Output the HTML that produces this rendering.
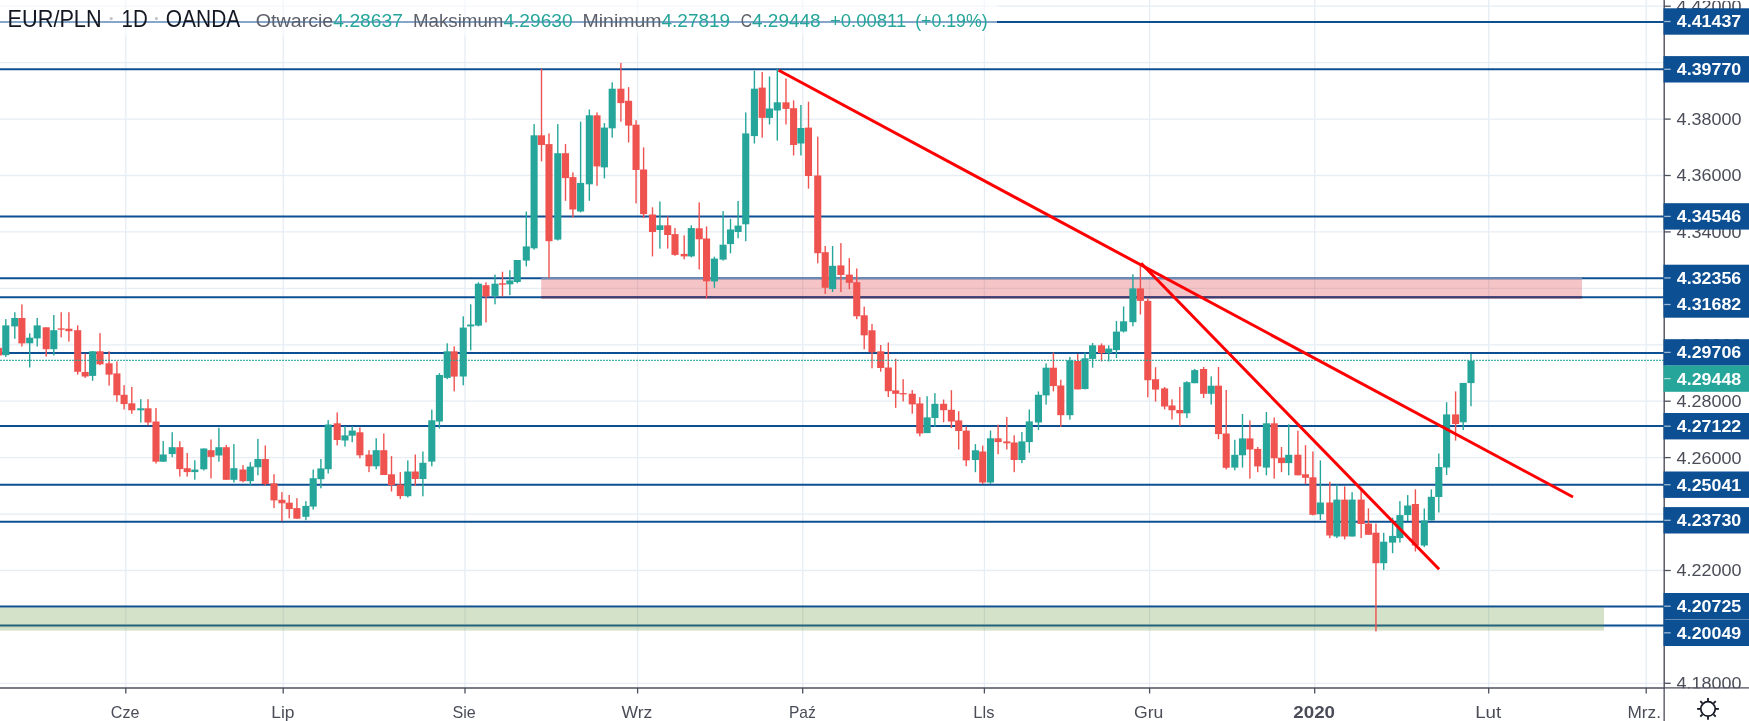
<!DOCTYPE html>
<html><head><meta charset="utf-8"><title>EUR/PLN 1D OANDA</title>
<style>html,body{margin:0;padding:0;background:#fff;overflow:hidden;}svg{display:block;filter:blur(0.45px);}</style>
</head><body>
<svg width="1749" height="721" viewBox="0 0 1749 721" font-family="Liberation Sans, Arial, sans-serif">
<rect width="1749" height="721" fill="#ffffff"/>
<g stroke="#e6edf4" stroke-width="1.3">
<line x1="125.8" y1="0" x2="125.8" y2="688.0"/>
<line x1="283.2" y1="0" x2="283.2" y2="688.0"/>
<line x1="465.0" y1="0" x2="465.0" y2="688.0"/>
<line x1="637.6" y1="0" x2="637.6" y2="688.0"/>
<line x1="802.7" y1="0" x2="802.7" y2="688.0"/>
<line x1="984.4" y1="0" x2="984.4" y2="688.0"/>
<line x1="1149.6" y1="0" x2="1149.6" y2="688.0"/>
<line x1="1314.7" y1="0" x2="1314.7" y2="688.0"/>
<line x1="1488.7" y1="0" x2="1488.7" y2="688.0"/>
<line x1="1646.2" y1="0" x2="1646.2" y2="688.0"/>
<line x1="0" y1="6.2" x2="1664.2" y2="6.2"/>
<line x1="0" y1="62.7" x2="1664.2" y2="62.7"/>
<line x1="0" y1="119.1" x2="1664.2" y2="119.1"/>
<line x1="0" y1="175.5" x2="1664.2" y2="175.5"/>
<line x1="0" y1="231.9" x2="1664.2" y2="231.9"/>
<line x1="0" y1="288.4" x2="1664.2" y2="288.4"/>
<line x1="0" y1="344.8" x2="1664.2" y2="344.8"/>
<line x1="0" y1="401.2" x2="1664.2" y2="401.2"/>
<line x1="0" y1="457.6" x2="1664.2" y2="457.6"/>
<line x1="0" y1="514.1" x2="1664.2" y2="514.1"/>
<line x1="0" y1="570.5" x2="1664.2" y2="570.5"/>
<line x1="0" y1="626.9" x2="1664.2" y2="626.9"/>
<line x1="0" y1="683.3" x2="1664.2" y2="683.3"/>
</g>
<g stroke="#0c4f92" stroke-width="2.0">
<line x1="0" y1="22.1" x2="1664.2" y2="22.1"/>
<line x1="0" y1="69.2" x2="1664.2" y2="69.2"/>
<line x1="0" y1="216.5" x2="1664.2" y2="216.5"/>
<line x1="0" y1="278.3" x2="1664.2" y2="278.3"/>
<line x1="0" y1="297.3" x2="1664.2" y2="297.3"/>
<line x1="0" y1="353.1" x2="1664.2" y2="353.1"/>
<line x1="0" y1="426.0" x2="1664.2" y2="426.0"/>
<line x1="0" y1="484.7" x2="1664.2" y2="484.7"/>
<line x1="0" y1="521.7" x2="1664.2" y2="521.7"/>
<line x1="0" y1="606.5" x2="1664.2" y2="606.5"/>
<line x1="0" y1="625.5" x2="1664.2" y2="625.5"/>
</g>
<rect x="541.2" y="278.9" width="1040.8" height="20.0" fill="rgb(220,70,80)" fill-opacity="0.32"/>
<line x1="541.2" y1="278.3" x2="1582" y2="278.3" stroke="#6f8cb4" stroke-width="1.9"/>
<line x1="541.2" y1="297.3" x2="1582" y2="297.3" stroke="#3a3e70" stroke-width="1.9"/>
<rect x="0" y="607.4" width="1604" height="23.2" fill="rgb(100,150,60)" fill-opacity="0.28"/>
<rect x="-2.27" y="340.0" width="1.4" height="18.0" fill="#ef5350"/>
<rect x="-5.12" y="347.8" width="7.1" height="7.7" fill="#ef5350"/>
<rect x="5.10" y="319.1" width="1.4" height="37.8" fill="#26a69a"/>
<rect x="2.25" y="325.4" width="7.1" height="29.8" fill="#26a69a"/>
<rect x="14.10" y="312.2" width="1.4" height="26.6" fill="#26a69a"/>
<rect x="11.25" y="318.0" width="7.1" height="8.4" fill="#26a69a"/>
<rect x="21.20" y="304.4" width="1.4" height="42.1" fill="#ef5350"/>
<rect x="18.35" y="318.0" width="7.1" height="25.4" fill="#ef5350"/>
<rect x="29.00" y="333.3" width="1.4" height="34.2" fill="#26a69a"/>
<rect x="26.15" y="337.7" width="7.1" height="5.6" fill="#26a69a"/>
<rect x="36.50" y="318.0" width="1.4" height="28.5" fill="#26a69a"/>
<rect x="33.65" y="325.4" width="7.1" height="13.0" fill="#26a69a"/>
<rect x="45.50" y="327.3" width="1.4" height="29.3" fill="#ef5350"/>
<rect x="42.65" y="327.3" width="7.1" height="21.9" fill="#ef5350"/>
<rect x="53.10" y="315.0" width="1.4" height="40.5" fill="#26a69a"/>
<rect x="50.25" y="330.2" width="7.1" height="19.0" fill="#26a69a"/>
<rect x="60.50" y="312.2" width="1.4" height="25.2" fill="#ef5350"/>
<rect x="57.65" y="328.4" width="7.1" height="1.3" fill="#ef5350"/>
<rect x="68.20" y="312.2" width="1.4" height="29.4" fill="#ef5350"/>
<rect x="65.35" y="328.7" width="7.1" height="2.5" fill="#ef5350"/>
<rect x="77.00" y="325.4" width="1.4" height="49.2" fill="#ef5350"/>
<rect x="74.15" y="330.2" width="7.1" height="41.6" fill="#ef5350"/>
<rect x="84.50" y="353.6" width="1.4" height="24.3" fill="#ef5350"/>
<rect x="81.65" y="372.0" width="7.1" height="4.5" fill="#ef5350"/>
<rect x="91.90" y="351.0" width="1.4" height="29.8" fill="#26a69a"/>
<rect x="89.05" y="351.3" width="7.1" height="24.6" fill="#26a69a"/>
<rect x="99.30" y="333.1" width="1.4" height="32.1" fill="#ef5350"/>
<rect x="96.45" y="351.3" width="7.1" height="13.0" fill="#ef5350"/>
<rect x="108.40" y="351.3" width="1.4" height="34.3" fill="#ef5350"/>
<rect x="105.55" y="363.3" width="7.1" height="11.3" fill="#ef5350"/>
<rect x="116.20" y="361.4" width="1.4" height="40.3" fill="#ef5350"/>
<rect x="113.35" y="373.4" width="7.1" height="21.9" fill="#ef5350"/>
<rect x="123.40" y="385.2" width="1.4" height="24.3" fill="#ef5350"/>
<rect x="120.55" y="394.8" width="7.1" height="9.3" fill="#ef5350"/>
<rect x="131.10" y="387.0" width="1.4" height="26.8" fill="#ef5350"/>
<rect x="128.25" y="403.3" width="7.1" height="7.0" fill="#ef5350"/>
<rect x="140.10" y="399.2" width="1.4" height="23.3" fill="#26a69a"/>
<rect x="137.25" y="408.3" width="7.1" height="2.0" fill="#26a69a"/>
<rect x="147.30" y="399.2" width="1.4" height="26.2" fill="#ef5350"/>
<rect x="144.45" y="408.3" width="7.1" height="14.2" fill="#ef5350"/>
<rect x="155.30" y="408.0" width="1.4" height="55.5" fill="#ef5350"/>
<rect x="152.45" y="421.5" width="7.1" height="40.2" fill="#ef5350"/>
<rect x="162.50" y="441.0" width="1.4" height="20.7" fill="#26a69a"/>
<rect x="159.65" y="454.5" width="7.1" height="7.2" fill="#26a69a"/>
<rect x="171.50" y="432.2" width="1.4" height="24.9" fill="#26a69a"/>
<rect x="168.65" y="447.2" width="7.1" height="6.9" fill="#26a69a"/>
<rect x="179.10" y="441.2" width="1.4" height="35.4" fill="#ef5350"/>
<rect x="176.25" y="447.2" width="7.1" height="21.9" fill="#ef5350"/>
<rect x="186.50" y="453.0" width="1.4" height="23.6" fill="#ef5350"/>
<rect x="183.65" y="468.2" width="7.1" height="3.9" fill="#ef5350"/>
<rect x="194.10" y="460.3" width="1.4" height="19.4" fill="#26a69a"/>
<rect x="191.25" y="469.6" width="7.1" height="2.5" fill="#26a69a"/>
<rect x="203.10" y="448.5" width="1.4" height="22.0" fill="#26a69a"/>
<rect x="200.25" y="448.5" width="7.1" height="20.8" fill="#26a69a"/>
<rect x="210.30" y="439.5" width="1.4" height="38.9" fill="#ef5350"/>
<rect x="207.45" y="450.2" width="7.1" height="6.7" fill="#ef5350"/>
<rect x="218.20" y="427.7" width="1.4" height="34.0" fill="#26a69a"/>
<rect x="215.35" y="447.2" width="7.1" height="8.3" fill="#26a69a"/>
<rect x="225.60" y="445.0" width="1.4" height="34.8" fill="#ef5350"/>
<rect x="222.75" y="447.2" width="7.1" height="32.6" fill="#ef5350"/>
<rect x="233.20" y="444.1" width="1.4" height="38.4" fill="#26a69a"/>
<rect x="230.35" y="468.2" width="7.1" height="11.6" fill="#26a69a"/>
<rect x="242.30" y="465.1" width="1.4" height="17.2" fill="#ef5350"/>
<rect x="239.45" y="469.5" width="7.1" height="11.7" fill="#ef5350"/>
<rect x="249.60" y="462.2" width="1.4" height="23.3" fill="#26a69a"/>
<rect x="246.75" y="466.6" width="7.1" height="14.6" fill="#26a69a"/>
<rect x="257.20" y="438.9" width="1.4" height="36.4" fill="#26a69a"/>
<rect x="254.35" y="459.0" width="7.1" height="8.3" fill="#26a69a"/>
<rect x="264.60" y="445.5" width="1.4" height="40.0" fill="#ef5350"/>
<rect x="261.75" y="459.0" width="7.1" height="25.1" fill="#ef5350"/>
<rect x="273.30" y="474.2" width="1.4" height="33.9" fill="#ef5350"/>
<rect x="270.45" y="483.3" width="7.1" height="17.1" fill="#ef5350"/>
<rect x="281.20" y="492.1" width="1.4" height="29.1" fill="#ef5350"/>
<rect x="278.35" y="499.8" width="7.1" height="3.5" fill="#ef5350"/>
<rect x="288.50" y="495.0" width="1.4" height="23.3" fill="#ef5350"/>
<rect x="285.65" y="502.7" width="7.1" height="6.4" fill="#ef5350"/>
<rect x="296.20" y="498.2" width="1.4" height="20.5" fill="#ef5350"/>
<rect x="293.35" y="508.1" width="7.1" height="10.6" fill="#ef5350"/>
<rect x="305.20" y="501.1" width="1.4" height="19.1" fill="#26a69a"/>
<rect x="302.35" y="505.9" width="7.1" height="10.9" fill="#26a69a"/>
<rect x="312.50" y="469.5" width="1.4" height="40.1" fill="#26a69a"/>
<rect x="309.65" y="478.2" width="7.1" height="28.4" fill="#26a69a"/>
<rect x="320.20" y="459.0" width="1.4" height="29.3" fill="#26a69a"/>
<rect x="317.35" y="468.4" width="7.1" height="10.8" fill="#26a69a"/>
<rect x="327.50" y="420.1" width="1.4" height="53.4" fill="#26a69a"/>
<rect x="324.65" y="424.5" width="7.1" height="44.7" fill="#26a69a"/>
<rect x="336.50" y="412.4" width="1.4" height="33.0" fill="#ef5350"/>
<rect x="333.65" y="423.3" width="7.1" height="16.7" fill="#ef5350"/>
<rect x="344.30" y="426.2" width="1.4" height="20.4" fill="#26a69a"/>
<rect x="341.45" y="435.4" width="7.1" height="5.1" fill="#26a69a"/>
<rect x="351.50" y="426.2" width="1.4" height="16.0" fill="#26a69a"/>
<rect x="348.65" y="430.6" width="7.1" height="5.1" fill="#26a69a"/>
<rect x="359.20" y="427.4" width="1.4" height="30.9" fill="#ef5350"/>
<rect x="356.35" y="432.3" width="7.1" height="23.0" fill="#ef5350"/>
<rect x="368.30" y="450.2" width="1.4" height="21.9" fill="#ef5350"/>
<rect x="365.45" y="454.6" width="7.1" height="11.7" fill="#ef5350"/>
<rect x="375.50" y="438.2" width="1.4" height="31.0" fill="#26a69a"/>
<rect x="372.65" y="450.2" width="7.1" height="16.1" fill="#26a69a"/>
<rect x="383.10" y="433.5" width="1.4" height="41.5" fill="#ef5350"/>
<rect x="380.25" y="450.2" width="7.1" height="24.8" fill="#ef5350"/>
<rect x="390.80" y="456.1" width="1.4" height="35.4" fill="#ef5350"/>
<rect x="387.95" y="474.3" width="7.1" height="10.9" fill="#ef5350"/>
<rect x="399.60" y="472.1" width="1.4" height="26.9" fill="#ef5350"/>
<rect x="396.75" y="484.5" width="7.1" height="11.6" fill="#ef5350"/>
<rect x="407.10" y="460.4" width="1.4" height="37.1" fill="#26a69a"/>
<rect x="404.25" y="471.5" width="7.1" height="24.7" fill="#26a69a"/>
<rect x="414.60" y="454.5" width="1.4" height="31.2" fill="#ef5350"/>
<rect x="411.75" y="471.5" width="7.1" height="7.5" fill="#ef5350"/>
<rect x="422.20" y="451.5" width="1.4" height="44.8" fill="#26a69a"/>
<rect x="419.35" y="462.8" width="7.1" height="16.2" fill="#26a69a"/>
<rect x="431.10" y="409.7" width="1.4" height="56.6" fill="#26a69a"/>
<rect x="428.25" y="420.3" width="7.1" height="41.3" fill="#26a69a"/>
<rect x="438.70" y="373.2" width="1.4" height="55.4" fill="#26a69a"/>
<rect x="435.85" y="375.0" width="7.1" height="46.5" fill="#26a69a"/>
<rect x="446.50" y="343.3" width="1.4" height="35.9" fill="#26a69a"/>
<rect x="443.65" y="351.3" width="7.1" height="26.6" fill="#26a69a"/>
<rect x="453.50" y="346.4" width="1.4" height="45.0" fill="#ef5350"/>
<rect x="450.65" y="351.3" width="7.1" height="25.3" fill="#ef5350"/>
<rect x="462.55" y="316.3" width="1.4" height="69.0" fill="#26a69a"/>
<rect x="459.70" y="327.6" width="7.1" height="48.9" fill="#26a69a"/>
<rect x="470.00" y="304.3" width="1.4" height="46.0" fill="#26a69a"/>
<rect x="467.15" y="324.5" width="7.1" height="1.9" fill="#26a69a"/>
<rect x="477.70" y="282.3" width="1.4" height="44.1" fill="#26a69a"/>
<rect x="474.85" y="283.7" width="7.1" height="41.9" fill="#26a69a"/>
<rect x="485.30" y="282.3" width="1.4" height="40.2" fill="#ef5350"/>
<rect x="482.45" y="285.2" width="7.1" height="11.3" fill="#ef5350"/>
<rect x="494.30" y="274.6" width="1.4" height="29.7" fill="#26a69a"/>
<rect x="491.45" y="283.7" width="7.1" height="12.2" fill="#26a69a"/>
<rect x="501.80" y="271.7" width="1.4" height="24.8" fill="#ef5350"/>
<rect x="498.95" y="283.3" width="7.1" height="1.4" fill="#ef5350"/>
<rect x="509.15" y="270.2" width="1.4" height="24.9" fill="#26a69a"/>
<rect x="506.30" y="280.4" width="7.1" height="3.9" fill="#26a69a"/>
<rect x="516.55" y="260.0" width="1.4" height="23.3" fill="#26a69a"/>
<rect x="513.70" y="260.0" width="7.1" height="22.0" fill="#26a69a"/>
<rect x="525.60" y="211.5" width="1.4" height="54.9" fill="#26a69a"/>
<rect x="522.75" y="246.4" width="7.1" height="14.2" fill="#26a69a"/>
<rect x="533.40" y="124.1" width="1.4" height="125.6" fill="#26a69a"/>
<rect x="530.55" y="135.3" width="7.1" height="113.0" fill="#26a69a"/>
<rect x="540.80" y="68.7" width="1.4" height="92.7" fill="#ef5350"/>
<rect x="537.95" y="135.3" width="7.1" height="9.7" fill="#ef5350"/>
<rect x="548.30" y="133.4" width="1.4" height="144.6" fill="#ef5350"/>
<rect x="545.45" y="144.1" width="7.1" height="97.1" fill="#ef5350"/>
<rect x="557.10" y="124.1" width="1.4" height="116.4" fill="#26a69a"/>
<rect x="554.25" y="153.2" width="7.1" height="86.4" fill="#26a69a"/>
<rect x="564.80" y="144.1" width="1.4" height="56.7" fill="#ef5350"/>
<rect x="561.95" y="153.2" width="7.1" height="24.9" fill="#ef5350"/>
<rect x="572.20" y="172.4" width="1.4" height="44.9" fill="#ef5350"/>
<rect x="569.35" y="177.1" width="7.1" height="32.4" fill="#ef5350"/>
<rect x="579.90" y="121.7" width="1.4" height="90.7" fill="#26a69a"/>
<rect x="577.05" y="182.9" width="7.1" height="28.6" fill="#26a69a"/>
<rect x="588.65" y="109.5" width="1.4" height="91.3" fill="#26a69a"/>
<rect x="585.80" y="115.3" width="7.1" height="69.0" fill="#26a69a"/>
<rect x="596.30" y="112.4" width="1.4" height="73.4" fill="#ef5350"/>
<rect x="593.45" y="115.3" width="7.1" height="51.1" fill="#ef5350"/>
<rect x="603.70" y="123.1" width="1.4" height="55.3" fill="#26a69a"/>
<rect x="600.85" y="127.6" width="7.1" height="39.8" fill="#26a69a"/>
<rect x="611.50" y="82.3" width="1.4" height="55.4" fill="#26a69a"/>
<rect x="608.65" y="88.7" width="7.1" height="39.6" fill="#26a69a"/>
<rect x="620.20" y="62.9" width="1.4" height="58.8" fill="#ef5350"/>
<rect x="617.35" y="88.7" width="7.1" height="14.4" fill="#ef5350"/>
<rect x="627.90" y="87.2" width="1.4" height="55.3" fill="#ef5350"/>
<rect x="625.05" y="100.8" width="7.1" height="24.8" fill="#ef5350"/>
<rect x="635.35" y="120.2" width="1.4" height="83.2" fill="#ef5350"/>
<rect x="632.50" y="124.7" width="7.1" height="45.3" fill="#ef5350"/>
<rect x="642.90" y="147.4" width="1.4" height="70.6" fill="#ef5350"/>
<rect x="640.05" y="169.5" width="7.1" height="44.6" fill="#ef5350"/>
<rect x="651.80" y="207.3" width="1.4" height="49.1" fill="#ef5350"/>
<rect x="648.95" y="214.5" width="7.1" height="17.5" fill="#ef5350"/>
<rect x="659.20" y="201.5" width="1.4" height="47.1" fill="#26a69a"/>
<rect x="656.35" y="225.3" width="7.1" height="4.7" fill="#26a69a"/>
<rect x="667.00" y="216.4" width="1.4" height="32.2" fill="#ef5350"/>
<rect x="664.15" y="225.3" width="7.1" height="9.7" fill="#ef5350"/>
<rect x="674.30" y="228.1" width="1.4" height="27.7" fill="#ef5350"/>
<rect x="671.45" y="234.1" width="7.1" height="20.8" fill="#ef5350"/>
<rect x="683.50" y="235.4" width="1.4" height="23.9" fill="#ef5350"/>
<rect x="680.65" y="253.9" width="7.1" height="2.5" fill="#ef5350"/>
<rect x="690.60" y="225.3" width="1.4" height="32.1" fill="#26a69a"/>
<rect x="687.75" y="228.1" width="7.1" height="28.3" fill="#26a69a"/>
<rect x="698.50" y="202.4" width="1.4" height="67.1" fill="#ef5350"/>
<rect x="695.65" y="228.3" width="7.1" height="11.0" fill="#ef5350"/>
<rect x="705.85" y="226.5" width="1.4" height="71.9" fill="#ef5350"/>
<rect x="703.00" y="238.5" width="7.1" height="42.8" fill="#ef5350"/>
<rect x="713.70" y="256.7" width="1.4" height="31.1" fill="#26a69a"/>
<rect x="710.85" y="258.6" width="7.1" height="22.8" fill="#26a69a"/>
<rect x="722.40" y="211.1" width="1.4" height="49.5" fill="#26a69a"/>
<rect x="719.55" y="244.7" width="7.1" height="14.9" fill="#26a69a"/>
<rect x="729.80" y="218.8" width="1.4" height="34.6" fill="#26a69a"/>
<rect x="726.95" y="229.5" width="7.1" height="14.6" fill="#26a69a"/>
<rect x="737.40" y="201.0" width="1.4" height="37.3" fill="#26a69a"/>
<rect x="734.55" y="225.6" width="7.1" height="6.4" fill="#26a69a"/>
<rect x="745.05" y="112.4" width="1.4" height="128.8" fill="#26a69a"/>
<rect x="742.20" y="133.4" width="7.1" height="90.9" fill="#26a69a"/>
<rect x="753.70" y="70.7" width="1.4" height="72.8" fill="#26a69a"/>
<rect x="750.85" y="88.7" width="7.1" height="47.4" fill="#26a69a"/>
<rect x="761.50" y="72.0" width="1.4" height="65.7" fill="#ef5350"/>
<rect x="758.65" y="87.6" width="7.1" height="30.3" fill="#ef5350"/>
<rect x="768.80" y="76.5" width="1.4" height="48.0" fill="#26a69a"/>
<rect x="765.95" y="108.5" width="7.1" height="9.4" fill="#26a69a"/>
<rect x="776.60" y="68.7" width="1.4" height="71.9" fill="#26a69a"/>
<rect x="773.75" y="102.3" width="7.1" height="8.2" fill="#26a69a"/>
<rect x="785.30" y="78.4" width="1.4" height="46.1" fill="#ef5350"/>
<rect x="782.45" y="102.3" width="7.1" height="6.6" fill="#ef5350"/>
<rect x="792.90" y="100.4" width="1.4" height="55.1" fill="#ef5350"/>
<rect x="790.05" y="108.2" width="7.1" height="36.8" fill="#ef5350"/>
<rect x="800.20" y="105.0" width="1.4" height="50.5" fill="#26a69a"/>
<rect x="797.35" y="128.0" width="7.1" height="15.5" fill="#26a69a"/>
<rect x="807.80" y="101.7" width="1.4" height="86.9" fill="#ef5350"/>
<rect x="804.95" y="127.6" width="7.1" height="48.4" fill="#ef5350"/>
<rect x="817.05" y="136.7" width="1.4" height="126.6" fill="#ef5350"/>
<rect x="814.20" y="175.5" width="7.1" height="77.7" fill="#ef5350"/>
<rect x="824.50" y="246.0" width="1.4" height="48.0" fill="#ef5350"/>
<rect x="821.65" y="252.2" width="7.1" height="35.6" fill="#ef5350"/>
<rect x="831.90" y="246.0" width="1.4" height="46.0" fill="#26a69a"/>
<rect x="829.05" y="265.8" width="7.1" height="23.3" fill="#26a69a"/>
<rect x="840.20" y="243.1" width="1.4" height="48.9" fill="#ef5350"/>
<rect x="837.35" y="265.4" width="7.1" height="9.6" fill="#ef5350"/>
<rect x="848.60" y="258.1" width="1.4" height="31.1" fill="#ef5350"/>
<rect x="845.75" y="274.6" width="7.1" height="8.2" fill="#ef5350"/>
<rect x="856.05" y="268.5" width="1.4" height="50.7" fill="#ef5350"/>
<rect x="853.20" y="282.2" width="7.1" height="34.1" fill="#ef5350"/>
<rect x="863.50" y="306.6" width="1.4" height="42.7" fill="#ef5350"/>
<rect x="860.65" y="315.3" width="7.1" height="20.0" fill="#ef5350"/>
<rect x="871.30" y="324.1" width="1.4" height="44.2" fill="#ef5350"/>
<rect x="868.45" y="330.3" width="7.1" height="21.9" fill="#ef5350"/>
<rect x="880.00" y="345.0" width="1.4" height="26.7" fill="#ef5350"/>
<rect x="877.15" y="351.3" width="7.1" height="16.7" fill="#ef5350"/>
<rect x="887.60" y="342.5" width="1.4" height="54.5" fill="#ef5350"/>
<rect x="884.75" y="367.5" width="7.1" height="23.7" fill="#ef5350"/>
<rect x="895.00" y="358.7" width="1.4" height="49.2" fill="#ef5350"/>
<rect x="892.15" y="390.4" width="7.1" height="3.4" fill="#ef5350"/>
<rect x="902.45" y="379.2" width="1.4" height="22.3" fill="#ef5350"/>
<rect x="899.60" y="393.1" width="7.1" height="1.3" fill="#ef5350"/>
<rect x="911.55" y="390.1" width="1.4" height="23.6" fill="#ef5350"/>
<rect x="908.70" y="393.7" width="7.1" height="10.7" fill="#ef5350"/>
<rect x="919.10" y="397.2" width="1.4" height="39.2" fill="#ef5350"/>
<rect x="916.25" y="403.4" width="7.1" height="30.1" fill="#ef5350"/>
<rect x="926.40" y="396.2" width="1.4" height="36.9" fill="#26a69a"/>
<rect x="923.55" y="417.4" width="7.1" height="15.7" fill="#26a69a"/>
<rect x="934.20" y="393.1" width="1.4" height="33.6" fill="#26a69a"/>
<rect x="931.35" y="403.8" width="7.1" height="14.2" fill="#26a69a"/>
<rect x="942.90" y="399.5" width="1.4" height="22.7" fill="#ef5350"/>
<rect x="940.05" y="403.8" width="7.1" height="6.4" fill="#ef5350"/>
<rect x="950.70" y="390.2" width="1.4" height="37.9" fill="#ef5350"/>
<rect x="947.85" y="409.8" width="7.1" height="11.7" fill="#ef5350"/>
<rect x="958.00" y="411.2" width="1.4" height="38.3" fill="#ef5350"/>
<rect x="955.15" y="420.4" width="7.1" height="10.6" fill="#ef5350"/>
<rect x="965.55" y="426.5" width="1.4" height="39.7" fill="#ef5350"/>
<rect x="962.70" y="430.6" width="7.1" height="29.8" fill="#ef5350"/>
<rect x="974.70" y="444.1" width="1.4" height="28.1" fill="#26a69a"/>
<rect x="971.85" y="450.3" width="7.1" height="9.7" fill="#26a69a"/>
<rect x="982.00" y="445.6" width="1.4" height="38.3" fill="#ef5350"/>
<rect x="979.15" y="451.5" width="7.1" height="31.0" fill="#ef5350"/>
<rect x="989.80" y="430.5" width="1.4" height="53.4" fill="#26a69a"/>
<rect x="986.95" y="438.3" width="7.1" height="44.2" fill="#26a69a"/>
<rect x="997.40" y="424.7" width="1.4" height="29.5" fill="#ef5350"/>
<rect x="994.55" y="438.3" width="7.1" height="3.8" fill="#ef5350"/>
<rect x="1006.10" y="416.9" width="1.4" height="32.6" fill="#ef5350"/>
<rect x="1003.25" y="441.4" width="7.1" height="1.9" fill="#ef5350"/>
<rect x="1013.50" y="435.3" width="1.4" height="36.9" fill="#ef5350"/>
<rect x="1010.65" y="442.5" width="7.1" height="17.5" fill="#ef5350"/>
<rect x="1021.20" y="432.0" width="1.4" height="31.1" fill="#26a69a"/>
<rect x="1018.35" y="441.4" width="7.1" height="18.6" fill="#26a69a"/>
<rect x="1028.60" y="409.5" width="1.4" height="43.3" fill="#26a69a"/>
<rect x="1025.75" y="421.4" width="7.1" height="20.7" fill="#26a69a"/>
<rect x="1037.75" y="391.5" width="1.4" height="38.5" fill="#26a69a"/>
<rect x="1034.90" y="394.8" width="7.1" height="27.7" fill="#26a69a"/>
<rect x="1045.40" y="363.4" width="1.4" height="41.2" fill="#26a69a"/>
<rect x="1042.55" y="367.7" width="7.1" height="27.7" fill="#26a69a"/>
<rect x="1052.70" y="352.5" width="1.4" height="38.9" fill="#ef5350"/>
<rect x="1049.85" y="367.7" width="7.1" height="18.4" fill="#ef5350"/>
<rect x="1060.10" y="379.7" width="1.4" height="47.2" fill="#ef5350"/>
<rect x="1057.25" y="385.5" width="7.1" height="29.7" fill="#ef5350"/>
<rect x="1069.20" y="357.0" width="1.4" height="62.7" fill="#26a69a"/>
<rect x="1066.35" y="360.3" width="7.1" height="54.9" fill="#26a69a"/>
<rect x="1077.00" y="354.1" width="1.4" height="35.3" fill="#ef5350"/>
<rect x="1074.15" y="360.9" width="7.1" height="28.5" fill="#ef5350"/>
<rect x="1084.30" y="352.5" width="1.4" height="36.9" fill="#26a69a"/>
<rect x="1081.45" y="358.3" width="7.1" height="30.7" fill="#26a69a"/>
<rect x="1091.90" y="343.0" width="1.4" height="24.7" fill="#26a69a"/>
<rect x="1089.05" y="345.3" width="7.1" height="13.6" fill="#26a69a"/>
<rect x="1100.80" y="343.4" width="1.4" height="18.1" fill="#ef5350"/>
<rect x="1097.95" y="345.3" width="7.1" height="7.8" fill="#ef5350"/>
<rect x="1108.00" y="345.3" width="1.4" height="16.2" fill="#26a69a"/>
<rect x="1105.15" y="348.6" width="7.1" height="4.5" fill="#26a69a"/>
<rect x="1115.75" y="321.0" width="1.4" height="37.0" fill="#26a69a"/>
<rect x="1112.90" y="331.6" width="7.1" height="18.5" fill="#26a69a"/>
<rect x="1122.90" y="306.4" width="1.4" height="26.1" fill="#26a69a"/>
<rect x="1120.05" y="321.3" width="7.1" height="10.2" fill="#26a69a"/>
<rect x="1132.20" y="274.3" width="1.4" height="52.0" fill="#26a69a"/>
<rect x="1129.35" y="288.4" width="7.1" height="33.8" fill="#26a69a"/>
<rect x="1139.70" y="263.2" width="1.4" height="51.3" fill="#ef5350"/>
<rect x="1136.85" y="288.4" width="7.1" height="12.5" fill="#ef5350"/>
<rect x="1147.10" y="298.5" width="1.4" height="98.8" fill="#ef5350"/>
<rect x="1144.25" y="300.9" width="7.1" height="79.3" fill="#ef5350"/>
<rect x="1154.85" y="367.2" width="1.4" height="34.4" fill="#ef5350"/>
<rect x="1152.00" y="379.2" width="7.1" height="10.4" fill="#ef5350"/>
<rect x="1163.90" y="387.0" width="1.4" height="22.4" fill="#ef5350"/>
<rect x="1161.05" y="388.4" width="7.1" height="18.1" fill="#ef5350"/>
<rect x="1171.30" y="399.3" width="1.4" height="20.2" fill="#ef5350"/>
<rect x="1168.45" y="405.5" width="7.1" height="4.8" fill="#ef5350"/>
<rect x="1179.10" y="387.0" width="1.4" height="38.9" fill="#ef5350"/>
<rect x="1176.25" y="410.0" width="7.1" height="3.3" fill="#ef5350"/>
<rect x="1186.20" y="381.2" width="1.4" height="36.9" fill="#26a69a"/>
<rect x="1183.35" y="382.2" width="7.1" height="31.1" fill="#26a69a"/>
<rect x="1194.00" y="369.0" width="1.4" height="14.2" fill="#26a69a"/>
<rect x="1191.15" y="370.1" width="7.1" height="13.1" fill="#26a69a"/>
<rect x="1202.90" y="367.0" width="1.4" height="31.1" fill="#ef5350"/>
<rect x="1200.05" y="369.0" width="7.1" height="24.8" fill="#ef5350"/>
<rect x="1210.50" y="376.4" width="1.4" height="28.1" fill="#26a69a"/>
<rect x="1207.65" y="385.7" width="7.1" height="8.1" fill="#26a69a"/>
<rect x="1217.80" y="367.0" width="1.4" height="72.1" fill="#ef5350"/>
<rect x="1214.95" y="385.7" width="7.1" height="48.4" fill="#ef5350"/>
<rect x="1225.50" y="390.0" width="1.4" height="79.5" fill="#ef5350"/>
<rect x="1222.65" y="433.5" width="7.1" height="34.3" fill="#ef5350"/>
<rect x="1234.10" y="439.8" width="1.4" height="30.5" fill="#26a69a"/>
<rect x="1231.25" y="454.8" width="7.1" height="12.8" fill="#26a69a"/>
<rect x="1241.80" y="414.0" width="1.4" height="53.6" fill="#26a69a"/>
<rect x="1238.95" y="438.4" width="7.1" height="16.9" fill="#26a69a"/>
<rect x="1249.20" y="420.4" width="1.4" height="58.2" fill="#ef5350"/>
<rect x="1246.35" y="438.4" width="7.1" height="11.1" fill="#ef5350"/>
<rect x="1257.00" y="447.0" width="1.4" height="25.2" fill="#ef5350"/>
<rect x="1254.15" y="448.9" width="7.1" height="17.5" fill="#ef5350"/>
<rect x="1265.70" y="412.0" width="1.4" height="63.3" fill="#26a69a"/>
<rect x="1262.85" y="423.3" width="7.1" height="44.3" fill="#26a69a"/>
<rect x="1273.50" y="417.5" width="1.4" height="61.1" fill="#ef5350"/>
<rect x="1270.65" y="423.3" width="7.1" height="35.0" fill="#ef5350"/>
<rect x="1280.80" y="447.0" width="1.4" height="25.2" fill="#ef5350"/>
<rect x="1277.95" y="457.7" width="7.1" height="5.4" fill="#ef5350"/>
<rect x="1288.00" y="424.3" width="1.4" height="51.0" fill="#26a69a"/>
<rect x="1285.15" y="454.8" width="7.1" height="8.3" fill="#26a69a"/>
<rect x="1297.20" y="430.7" width="1.4" height="44.6" fill="#ef5350"/>
<rect x="1294.35" y="454.7" width="7.1" height="20.6" fill="#ef5350"/>
<rect x="1304.80" y="445.2" width="1.4" height="38.9" fill="#ef5350"/>
<rect x="1301.95" y="474.3" width="7.1" height="3.5" fill="#ef5350"/>
<rect x="1312.20" y="451.5" width="1.4" height="64.0" fill="#ef5350"/>
<rect x="1309.35" y="477.3" width="7.1" height="37.5" fill="#ef5350"/>
<rect x="1319.70" y="460.4" width="1.4" height="59.6" fill="#26a69a"/>
<rect x="1316.85" y="502.5" width="7.1" height="11.7" fill="#26a69a"/>
<rect x="1329.10" y="481.7" width="1.4" height="56.4" fill="#ef5350"/>
<rect x="1326.25" y="502.5" width="7.1" height="33.0" fill="#ef5350"/>
<rect x="1336.20" y="484.5" width="1.4" height="53.6" fill="#26a69a"/>
<rect x="1333.35" y="499.6" width="7.1" height="36.9" fill="#26a69a"/>
<rect x="1344.00" y="486.4" width="1.4" height="53.0" fill="#ef5350"/>
<rect x="1341.15" y="499.6" width="7.1" height="36.9" fill="#ef5350"/>
<rect x="1351.40" y="492.2" width="1.4" height="44.3" fill="#26a69a"/>
<rect x="1348.55" y="499.6" width="7.1" height="36.9" fill="#26a69a"/>
<rect x="1360.45" y="489.5" width="1.4" height="48.6" fill="#ef5350"/>
<rect x="1357.60" y="499.6" width="7.1" height="24.4" fill="#ef5350"/>
<rect x="1367.75" y="508.4" width="1.4" height="26.4" fill="#ef5350"/>
<rect x="1364.90" y="523.6" width="7.1" height="11.2" fill="#ef5350"/>
<rect x="1375.25" y="523.6" width="1.4" height="107.8" fill="#ef5350"/>
<rect x="1372.40" y="532.7" width="7.1" height="30.5" fill="#ef5350"/>
<rect x="1383.00" y="532.8" width="1.4" height="37.1" fill="#26a69a"/>
<rect x="1380.15" y="541.7" width="7.1" height="21.5" fill="#26a69a"/>
<rect x="1391.90" y="517.7" width="1.4" height="35.5" fill="#26a69a"/>
<rect x="1389.05" y="535.9" width="7.1" height="6.7" fill="#26a69a"/>
<rect x="1399.20" y="501.1" width="1.4" height="41.5" fill="#26a69a"/>
<rect x="1396.35" y="515.1" width="7.1" height="23.0" fill="#26a69a"/>
<rect x="1407.00" y="495.1" width="1.4" height="26.0" fill="#26a69a"/>
<rect x="1404.15" y="505.5" width="7.1" height="9.6" fill="#26a69a"/>
<rect x="1414.70" y="489.3" width="1.4" height="62.2" fill="#ef5350"/>
<rect x="1411.85" y="504.0" width="7.1" height="41.5" fill="#ef5350"/>
<rect x="1423.60" y="508.5" width="1.4" height="38.5" fill="#26a69a"/>
<rect x="1420.75" y="520.4" width="7.1" height="25.1" fill="#26a69a"/>
<rect x="1430.65" y="489.4" width="1.4" height="31.0" fill="#26a69a"/>
<rect x="1427.80" y="496.8" width="7.1" height="23.6" fill="#26a69a"/>
<rect x="1438.10" y="453.5" width="1.4" height="59.0" fill="#26a69a"/>
<rect x="1435.25" y="467.0" width="7.1" height="30.0" fill="#26a69a"/>
<rect x="1445.90" y="402.2" width="1.4" height="72.8" fill="#26a69a"/>
<rect x="1443.05" y="414.4" width="7.1" height="53.1" fill="#26a69a"/>
<rect x="1454.90" y="391.4" width="1.4" height="49.2" fill="#ef5350"/>
<rect x="1452.05" y="414.4" width="7.1" height="9.6" fill="#ef5350"/>
<rect x="1462.50" y="383.0" width="1.4" height="47.0" fill="#26a69a"/>
<rect x="1459.65" y="382.9" width="7.1" height="39.4" fill="#26a69a"/>
<rect x="1470.30" y="354.0" width="1.4" height="52.3" fill="#26a69a"/>
<rect x="1467.45" y="360.7" width="7.1" height="22.4" fill="#26a69a"/>
<line x1="0" y1="360.4" x2="1664.2" y2="360.4" stroke="#26a69a" stroke-width="1.3" stroke-dasharray="2 1" opacity="0.85"/>
<g stroke="#ff0000" stroke-width="3" stroke-linecap="butt">
<line x1="778.6" y1="70.3" x2="1573" y2="497"/>
<line x1="1141.1" y1="263.3" x2="1439.1" y2="569.2"/>
</g>
<rect x="0" y="0" width="997" height="35.5" fill="#ffffff" fill-opacity="0.5"/>
<text x="7.6" y="27.0" font-size="23.4" fill="#131722" font-weight="normal" textLength="94.0" lengthAdjust="spacingAndGlyphs">EUR/PLN</text>
<circle cx="111.2" cy="18.6" r="1.6" fill="#c3c4c9"/>
<text x="121.6" y="27.0" font-size="23.4" fill="#131722" font-weight="normal" textLength="26.2" lengthAdjust="spacingAndGlyphs">1D</text>
<circle cx="156.4" cy="18.6" r="1.6" fill="#c3c4c9"/>
<text x="165.8" y="27.0" font-size="23.4" fill="#131722" font-weight="normal" textLength="74.4" lengthAdjust="spacingAndGlyphs">OANDA</text>
<text x="255.8" y="26.9" font-size="19.2" fill="#5d606b" font-weight="normal" textLength="77.5" lengthAdjust="spacingAndGlyphs">Otwarcie</text>
<text x="333.3" y="26.9" font-size="19.2" fill="#26a69a" font-weight="normal" textLength="69.7" lengthAdjust="spacingAndGlyphs">4.28637</text>
<text x="413.0" y="26.9" font-size="19.2" fill="#5d606b" font-weight="normal" textLength="90.4" lengthAdjust="spacingAndGlyphs">Maksimum</text>
<text x="503.4" y="26.9" font-size="19.2" fill="#26a69a" font-weight="normal" textLength="69.2" lengthAdjust="spacingAndGlyphs">4.29630</text>
<text x="582.5" y="26.9" font-size="19.2" fill="#5d606b" font-weight="normal" textLength="79.0" lengthAdjust="spacingAndGlyphs">Minimum</text>
<text x="661.5" y="26.9" font-size="19.2" fill="#26a69a" font-weight="normal" textLength="68.6" lengthAdjust="spacingAndGlyphs">4.27819</text>
<text x="740.7" y="26.9" font-size="19.2" fill="#5d606b" font-weight="normal" textLength="11.3" lengthAdjust="spacingAndGlyphs">C</text>
<text x="752.0" y="26.9" font-size="19.2" fill="#26a69a" font-weight="normal" textLength="68.6" lengthAdjust="spacingAndGlyphs">4.29448</text>
<text x="830.0" y="26.9" font-size="19.2" fill="#26a69a" font-weight="normal" textLength="76.3" lengthAdjust="spacingAndGlyphs">+0.00811</text>
<text x="915.2" y="26.9" font-size="19.2" fill="#26a69a" font-weight="normal" textLength="72.4" lengthAdjust="spacingAndGlyphs">(+0.19%)</text>
<line x1="1664.2" y1="0" x2="1664.2" y2="721" stroke="#4c4f5c" stroke-width="1.4"/>
<line x1="0" y1="688.0" x2="1749" y2="688.0" stroke="#4c4f5c" stroke-width="1.4"/>
<g>
<line x1="1664.2" y1="6.2" x2="1670.7" y2="6.2" stroke="#4c4f5c" stroke-width="1.3"/>
<text x="1676.5" y="12.1" font-size="16.4" fill="#4a4d58" font-weight="normal" textLength="65.0" lengthAdjust="spacingAndGlyphs">4.42000</text>
<line x1="1664.2" y1="62.7" x2="1670.7" y2="62.7" stroke="#4c4f5c" stroke-width="1.3"/>
<text x="1676.5" y="68.6" font-size="16.4" fill="#4a4d58" font-weight="normal" textLength="65.0" lengthAdjust="spacingAndGlyphs">4.40000</text>
<line x1="1664.2" y1="119.1" x2="1670.7" y2="119.1" stroke="#4c4f5c" stroke-width="1.3"/>
<text x="1676.5" y="125.0" font-size="16.4" fill="#4a4d58" font-weight="normal" textLength="65.0" lengthAdjust="spacingAndGlyphs">4.38000</text>
<line x1="1664.2" y1="175.5" x2="1670.7" y2="175.5" stroke="#4c4f5c" stroke-width="1.3"/>
<text x="1676.5" y="181.4" font-size="16.4" fill="#4a4d58" font-weight="normal" textLength="65.0" lengthAdjust="spacingAndGlyphs">4.36000</text>
<line x1="1664.2" y1="231.9" x2="1670.7" y2="231.9" stroke="#4c4f5c" stroke-width="1.3"/>
<text x="1676.5" y="237.8" font-size="16.4" fill="#4a4d58" font-weight="normal" textLength="65.0" lengthAdjust="spacingAndGlyphs">4.34000</text>
<line x1="1664.2" y1="288.4" x2="1670.7" y2="288.4" stroke="#4c4f5c" stroke-width="1.3"/>
<text x="1676.5" y="294.3" font-size="16.4" fill="#4a4d58" font-weight="normal" textLength="65.0" lengthAdjust="spacingAndGlyphs">4.32000</text>
<line x1="1664.2" y1="344.8" x2="1670.7" y2="344.8" stroke="#4c4f5c" stroke-width="1.3"/>
<text x="1676.5" y="350.7" font-size="16.4" fill="#4a4d58" font-weight="normal" textLength="65.0" lengthAdjust="spacingAndGlyphs">4.30000</text>
<line x1="1664.2" y1="401.2" x2="1670.7" y2="401.2" stroke="#4c4f5c" stroke-width="1.3"/>
<text x="1676.5" y="407.1" font-size="16.4" fill="#4a4d58" font-weight="normal" textLength="65.0" lengthAdjust="spacingAndGlyphs">4.28000</text>
<line x1="1664.2" y1="457.6" x2="1670.7" y2="457.6" stroke="#4c4f5c" stroke-width="1.3"/>
<text x="1676.5" y="463.5" font-size="16.4" fill="#4a4d58" font-weight="normal" textLength="65.0" lengthAdjust="spacingAndGlyphs">4.26000</text>
<line x1="1664.2" y1="514.1" x2="1670.7" y2="514.1" stroke="#4c4f5c" stroke-width="1.3"/>
<text x="1676.5" y="520.0" font-size="16.4" fill="#4a4d58" font-weight="normal" textLength="65.0" lengthAdjust="spacingAndGlyphs">4.24000</text>
<line x1="1664.2" y1="570.5" x2="1670.7" y2="570.5" stroke="#4c4f5c" stroke-width="1.3"/>
<text x="1676.5" y="576.4" font-size="16.4" fill="#4a4d58" font-weight="normal" textLength="65.0" lengthAdjust="spacingAndGlyphs">4.22000</text>
<line x1="1664.2" y1="626.9" x2="1670.7" y2="626.9" stroke="#4c4f5c" stroke-width="1.3"/>
<text x="1676.5" y="632.8" font-size="16.4" fill="#4a4d58" font-weight="normal" textLength="65.0" lengthAdjust="spacingAndGlyphs">4.20000</text>
<line x1="1664.2" y1="683.3" x2="1670.7" y2="683.3" stroke="#4c4f5c" stroke-width="1.3"/>
<text x="1676.5" y="689.2" font-size="16.4" fill="#4a4d58" font-weight="normal" textLength="65.0" lengthAdjust="spacingAndGlyphs">4.18000</text>
</g>
<rect x="1664.9" y="688.7" width="84.79999999999995" height="33.0" fill="#ffffff"/>
<rect x="1664.9" y="0" width="84.79999999999995" height="1" fill="#ffffff"/>
<rect x="1663.5" y="8.3" width="85.79999999999995" height="26.4" fill="#0c4f92"/>
<rect x="1663.5" y="56.1" width="85.79999999999995" height="26.4" fill="#0c4f92"/>
<rect x="1663.5" y="203.2" width="85.79999999999995" height="26.4" fill="#0c4f92"/>
<rect x="1663.5" y="264.7" width="85.79999999999995" height="26.4" fill="#0c4f92"/>
<rect x="1663.5" y="291.3" width="85.79999999999995" height="26.4" fill="#0c4f92"/>
<rect x="1663.5" y="339.2" width="85.79999999999995" height="26.4" fill="#0c4f92"/>
<rect x="1663.5" y="365.4" width="85.79999999999995" height="26.4" fill="#26a69a"/>
<rect x="1663.5" y="413.0" width="85.79999999999995" height="26.4" fill="#0c4f92"/>
<rect x="1663.5" y="471.5" width="85.79999999999995" height="26.4" fill="#0c4f92"/>
<rect x="1663.5" y="507.1" width="85.79999999999995" height="26.4" fill="#0c4f92"/>
<rect x="1663.5" y="593.0" width="85.79999999999995" height="26.4" fill="#0c4f92"/>
<rect x="1663.5" y="619.6" width="85.79999999999995" height="26.4" fill="#0c4f92"/>
<rect x="1663.5" y="277.9" width="85.79999999999995" height="26.6" fill="#0c4f92"/>
<line x1="1664.2" y1="21.5" x2="1670.7" y2="21.5" stroke="#ffffff" stroke-opacity="0.6" stroke-width="1.3"/>
<text x="1676.8" y="27.4" font-size="16.4" fill="#ffffff" font-weight="bold" textLength="64.4" lengthAdjust="spacingAndGlyphs">4.41437</text>
<line x1="1664.2" y1="69.3" x2="1670.7" y2="69.3" stroke="#ffffff" stroke-opacity="0.6" stroke-width="1.3"/>
<text x="1676.8" y="75.2" font-size="16.4" fill="#ffffff" font-weight="bold" textLength="64.4" lengthAdjust="spacingAndGlyphs">4.39770</text>
<line x1="1664.2" y1="216.4" x2="1670.7" y2="216.4" stroke="#ffffff" stroke-opacity="0.6" stroke-width="1.3"/>
<text x="1676.8" y="222.3" font-size="16.4" fill="#ffffff" font-weight="bold" textLength="64.4" lengthAdjust="spacingAndGlyphs">4.34546</text>
<line x1="1664.2" y1="277.9" x2="1670.7" y2="277.9" stroke="#ffffff" stroke-opacity="0.6" stroke-width="1.3"/>
<text x="1676.8" y="283.8" font-size="16.4" fill="#ffffff" font-weight="bold" textLength="64.4" lengthAdjust="spacingAndGlyphs">4.32356</text>
<line x1="1664.2" y1="304.5" x2="1670.7" y2="304.5" stroke="#ffffff" stroke-opacity="0.6" stroke-width="1.3"/>
<text x="1676.8" y="310.4" font-size="16.4" fill="#ffffff" font-weight="bold" textLength="64.4" lengthAdjust="spacingAndGlyphs">4.31682</text>
<line x1="1664.2" y1="352.4" x2="1670.7" y2="352.4" stroke="#ffffff" stroke-opacity="0.6" stroke-width="1.3"/>
<text x="1676.8" y="358.3" font-size="16.4" fill="#ffffff" font-weight="bold" textLength="64.4" lengthAdjust="spacingAndGlyphs">4.29706</text>
<line x1="1664.2" y1="378.6" x2="1670.7" y2="378.6" stroke="#ffffff" stroke-opacity="0.6" stroke-width="1.3"/>
<text x="1676.8" y="384.5" font-size="16.4" fill="#ffffff" font-weight="bold" textLength="64.4" lengthAdjust="spacingAndGlyphs">4.29448</text>
<line x1="1664.2" y1="426.2" x2="1670.7" y2="426.2" stroke="#ffffff" stroke-opacity="0.6" stroke-width="1.3"/>
<text x="1676.8" y="432.1" font-size="16.4" fill="#ffffff" font-weight="bold" textLength="64.4" lengthAdjust="spacingAndGlyphs">4.27122</text>
<line x1="1664.2" y1="484.7" x2="1670.7" y2="484.7" stroke="#ffffff" stroke-opacity="0.6" stroke-width="1.3"/>
<text x="1676.8" y="490.6" font-size="16.4" fill="#ffffff" font-weight="bold" textLength="64.4" lengthAdjust="spacingAndGlyphs">4.25041</text>
<line x1="1664.2" y1="520.3" x2="1670.7" y2="520.3" stroke="#ffffff" stroke-opacity="0.6" stroke-width="1.3"/>
<text x="1676.8" y="526.2" font-size="16.4" fill="#ffffff" font-weight="bold" textLength="64.4" lengthAdjust="spacingAndGlyphs">4.23730</text>
<line x1="1664.2" y1="606.2" x2="1670.7" y2="606.2" stroke="#ffffff" stroke-opacity="0.6" stroke-width="1.3"/>
<text x="1676.8" y="612.1" font-size="16.4" fill="#ffffff" font-weight="bold" textLength="64.4" lengthAdjust="spacingAndGlyphs">4.20725</text>
<line x1="1664.2" y1="632.8" x2="1670.7" y2="632.8" stroke="#ffffff" stroke-opacity="0.6" stroke-width="1.3"/>
<text x="1676.8" y="638.7" font-size="16.4" fill="#ffffff" font-weight="bold" textLength="64.4" lengthAdjust="spacingAndGlyphs">4.20049</text>
<line x1="125.8" y1="688.0" x2="125.8" y2="693.5" stroke="#4c4f5c" stroke-width="1.3"/>
<text x="110.8" y="718.2" font-size="16.6" fill="#4a4d58" font-weight="normal" textLength="28.6" lengthAdjust="spacingAndGlyphs">Cze</text>
<line x1="283.2" y1="688.0" x2="283.2" y2="693.5" stroke="#4c4f5c" stroke-width="1.3"/>
<text x="271.2" y="718.2" font-size="16.6" fill="#4a4d58" font-weight="normal" textLength="23.3" lengthAdjust="spacingAndGlyphs">Lip</text>
<line x1="465.0" y1="688.0" x2="465.0" y2="693.5" stroke="#4c4f5c" stroke-width="1.3"/>
<text x="452.5" y="718.2" font-size="16.6" fill="#4a4d58" font-weight="normal" textLength="23.3" lengthAdjust="spacingAndGlyphs">Sie</text>
<line x1="637.6" y1="688.0" x2="637.6" y2="693.5" stroke="#4c4f5c" stroke-width="1.3"/>
<text x="621.5" y="718.2" font-size="16.6" fill="#4a4d58" font-weight="normal" textLength="30.8" lengthAdjust="spacingAndGlyphs">Wrz</text>
<line x1="802.7" y1="688.0" x2="802.7" y2="693.5" stroke="#4c4f5c" stroke-width="1.3"/>
<text x="789.0" y="718.2" font-size="16.6" fill="#4a4d58" font-weight="normal" textLength="26.8" lengthAdjust="spacingAndGlyphs">Paź</text>
<line x1="984.4" y1="688.0" x2="984.4" y2="693.5" stroke="#4c4f5c" stroke-width="1.3"/>
<text x="973.3" y="718.2" font-size="16.6" fill="#4a4d58" font-weight="normal" textLength="21.1" lengthAdjust="spacingAndGlyphs">Lls</text>
<line x1="1149.6" y1="688.0" x2="1149.6" y2="693.5" stroke="#4c4f5c" stroke-width="1.3"/>
<text x="1134.0" y="718.2" font-size="16.6" fill="#4a4d58" font-weight="normal" textLength="29.3" lengthAdjust="spacingAndGlyphs">Gru</text>
<line x1="1314.7" y1="688.0" x2="1314.7" y2="693.5" stroke="#4c4f5c" stroke-width="1.3"/>
<text x="1293.3" y="718.2" font-size="16.6" fill="#4a4d58" font-weight="bold" textLength="41.7" lengthAdjust="spacingAndGlyphs">2020</text>
<line x1="1488.7" y1="688.0" x2="1488.7" y2="693.5" stroke="#4c4f5c" stroke-width="1.3"/>
<text x="1475.2" y="718.2" font-size="16.6" fill="#4a4d58" font-weight="normal" textLength="26.0" lengthAdjust="spacingAndGlyphs">Lut</text>
<line x1="1646.2" y1="688.0" x2="1646.2" y2="693.5" stroke="#4c4f5c" stroke-width="1.3"/>
<text x="1627.5" y="718.2" font-size="16.6" fill="#4a4d58" font-weight="normal" textLength="33.5" lengthAdjust="spacingAndGlyphs">Mrz.</text>
<g stroke="#131722" fill="none" stroke-width="1.7"><circle cx="1708.0" cy="708.9" r="7.2"/><line x1="1715.80" y1="708.90" x2="1718.90" y2="708.90" stroke-width="1.8"/><line x1="1713.52" y1="714.42" x2="1715.71" y2="716.61" stroke-width="1.8"/><line x1="1708.00" y1="716.70" x2="1708.00" y2="719.80" stroke-width="1.8"/><line x1="1702.48" y1="714.42" x2="1700.29" y2="716.61" stroke-width="1.8"/><line x1="1700.20" y1="708.90" x2="1697.10" y2="708.90" stroke-width="1.8"/><line x1="1702.48" y1="703.38" x2="1700.29" y2="701.19" stroke-width="1.8"/><line x1="1708.00" y1="701.10" x2="1708.00" y2="698.00" stroke-width="1.8"/><line x1="1713.52" y1="703.38" x2="1715.71" y2="701.19" stroke-width="1.8"/></g>
</svg>
</body></html>
